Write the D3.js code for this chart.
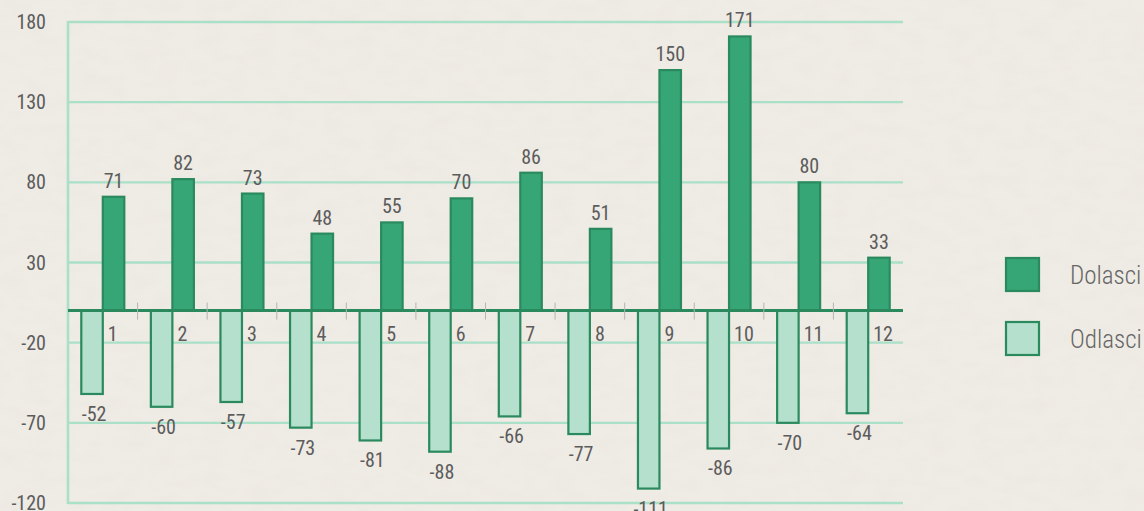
<!DOCTYPE html>
<html>
<head>
<meta charset="utf-8">
<script src="https://cdn.jsdelivr.net/npm/d3@7"></script>
<style>
  html, body { margin: 0; padding: 0; background: #efebe5; }
  svg { display: block; }
  text { font-family: "Roboto Condensed", "Liberation Sans Narrow", Roboto, sans-serif; font-stretch: condensed; fill: #5c5c5c; }
</style>
</head>
<body>
<svg class="chart" width="1144" height="511"></svg>
<script>
// data
var months = ["1","2","3","4","5","6","7","8","9","10","11","12"]
var dolasci = [71, 82, 73, 48, 55, 70, 86, 51, 150, 171, 80, 33]
var odlasci = [-52, -60, -57, -73, -81, -88, -66, -77, -111, -86, -70, -64]
var yTicks = [180, 130, 80, 30, -20, -70, -120]
var seriesNames = ["Dolasci", "Odlasci"]

var width = 1144,
    height = 511

// plot box (don't call it "top", that one belongs to window)
var pLeft = 68, pRight = 903, pTop = 22, pBottom = 503

const svg = d3.select(".chart")

// paper-ish texture
var defs = svg.append("defs")
var f = defs.append("filter").attr("id", "paper").attr("x", 0).attr("y", 0).attr("width", "100%").attr("height", "100%")
f.append("feTurbulence").attr("type", "fractalNoise").attr("baseFrequency", "0.04 0.08").attr("numOctaves", 3).attr("seed", 4)
f.append("feColorMatrix").attr("type", "matrix")
  .attr("values", "0 0 0 0 0.55  0 0 0 0 0.52  0 0 0 0 0.48  0 0 0 -0.9 0.55")
svg.append("rect").attr("width", width).attr("height", height).attr("fill", "#efebe5")
svg.append("rect").attr("width", width).attr("height", height).attr("filter", "url(#paper)").attr("opacity", 0.12)

const y = d3.scaleLinear().domain([-120, 180]).range([pBottom, pTop])
const x = d3.scaleBand().domain(months).range([pLeft, pRight]).padding(0)
const bw = x.bandwidth()
const barW = 21.5
const xs = d3.scaleBand().domain(["Odlasci", "Dolasci"])
  .range([bw / 2 - barW, bw / 2 + barW]).padding(0)

// grid
svg.append("g")
  .selectAll("line")
  .data(yTicks)
  .enter()
  .append("line")
  .attr("x1", pLeft).attr("x2", pRight)
  .attr("y1", d => y(d)).attr("y2", d => y(d))
  .attr("stroke", "#aadfc8")
  .attr("stroke-width", 2.4)

svg.append("line")
  .attr("x1", pLeft).attr("x2", pLeft)
  .attr("y1", pTop - 1).attr("y2", pBottom + 1)
  .attr("stroke", "#aadfc8")
  .attr("stroke-width", 2.6)

// y labels
svg.append("g")
  .selectAll("text")
  .data(yTicks)
  .enter()
  .append("text")
  .attr("x", 46)
  .attr("y", d => y(d))
  .attr("dy", "0.35em")
  .attr("text-anchor", "end")
  .style("font-size", "20px")
  .text(d => d)

// bars
var rows = months.map((m, i) => ({ m: m, Dolasci: dolasci[i], Odlasci: odlasci[i] }))

var groups = svg.append("g")
  .selectAll("g")
  .data(rows)
  .enter()
  .append("g")
  .attr("transform", d => "translate(" + x(d.m) + ",0)")

groups.append("rect")
  .attr("x", xs("Odlasci"))
  .attr("width", xs.bandwidth())
  .attr("y", y(0))
  .attr("height", d => y(d.Odlasci) - y(0))
  .attr("fill", "#b4e0cd")
  .attr("stroke", "#2a8a5e")
  .attr("stroke-width", 2.2)

groups.append("rect")
  .attr("x", xs("Dolasci"))
  .attr("width", xs.bandwidth())
  .attr("y", d => y(d.Dolasci))
  .attr("height", d => y(0) - y(d.Dolasci))
  .attr("fill", "#36a677")
  .attr("stroke", "#2a8a5e")
  .attr("stroke-width", 2.2)

// value labels
groups.append("text")
  .attr("x", xs("Dolasci") + xs.bandwidth() / 2)
  .attr("y", d => y(d.Dolasci) - 9)
  .attr("text-anchor", "middle")
  .style("font-size", "20px")
  .text(d => d.Dolasci)

groups.append("text")
  .attr("x", xs("Odlasci") + xs.bandwidth() / 2 + 2)
  .attr("y", d => y(d.Odlasci) + 27)
  .attr("text-anchor", "middle")
  .style("font-size", "20px")
  .text(d => d.Odlasci)

// zero line
svg.append("line")
  .attr("x1", pLeft).attr("x2", pRight)
  .attr("y1", y(0)).attr("y2", y(0))
  .attr("stroke", "#2a8a5e")
  .attr("stroke-width", 3)

// ticks between months
svg.append("g")
  .selectAll("line")
  .data(months.slice(1))
  .enter()
  .append("line")
  .attr("x1", d => x(d)).attr("x2", d => x(d))
  .attr("y1", y(0) - 8).attr("y2", y(0) + 9)
  .attr("stroke", "#b5b5b5")
  .attr("stroke-width", 1)

// month labels
svg.append("g")
  .selectAll("text")
  .data(months)
  .enter()
  .append("text")
  .attr("x", d => x(d) + bw / 2 + 5)
  .attr("y", y(0) + 30)
  .style("font-size", "20px")
  .text(d => d)

// legend
var legend = svg.append("g")
  .selectAll("g")
  .data(seriesNames)
  .enter()
  .append("g")
  .attr("transform", (d, i) => "translate(1006," + (258 + i * 64) + ")")

legend.append("rect")
  .attr("width", 33).attr("height", 33)
  .attr("fill", d => d == "Dolasci" ? "#36a677" : "#b4e0cd")
  .attr("stroke", "#2a8a5e")
  .attr("stroke-width", 2.2)

legend.append("text")
  .attr("x", 64)
  .attr("y", 17)
  .attr("dy", "0.35em")
  .style("font-size", "25px")
  .style("font-weight", 300)
  .style("fill", "#666")
  .text(d => d)
</script>
</body>
</html>
